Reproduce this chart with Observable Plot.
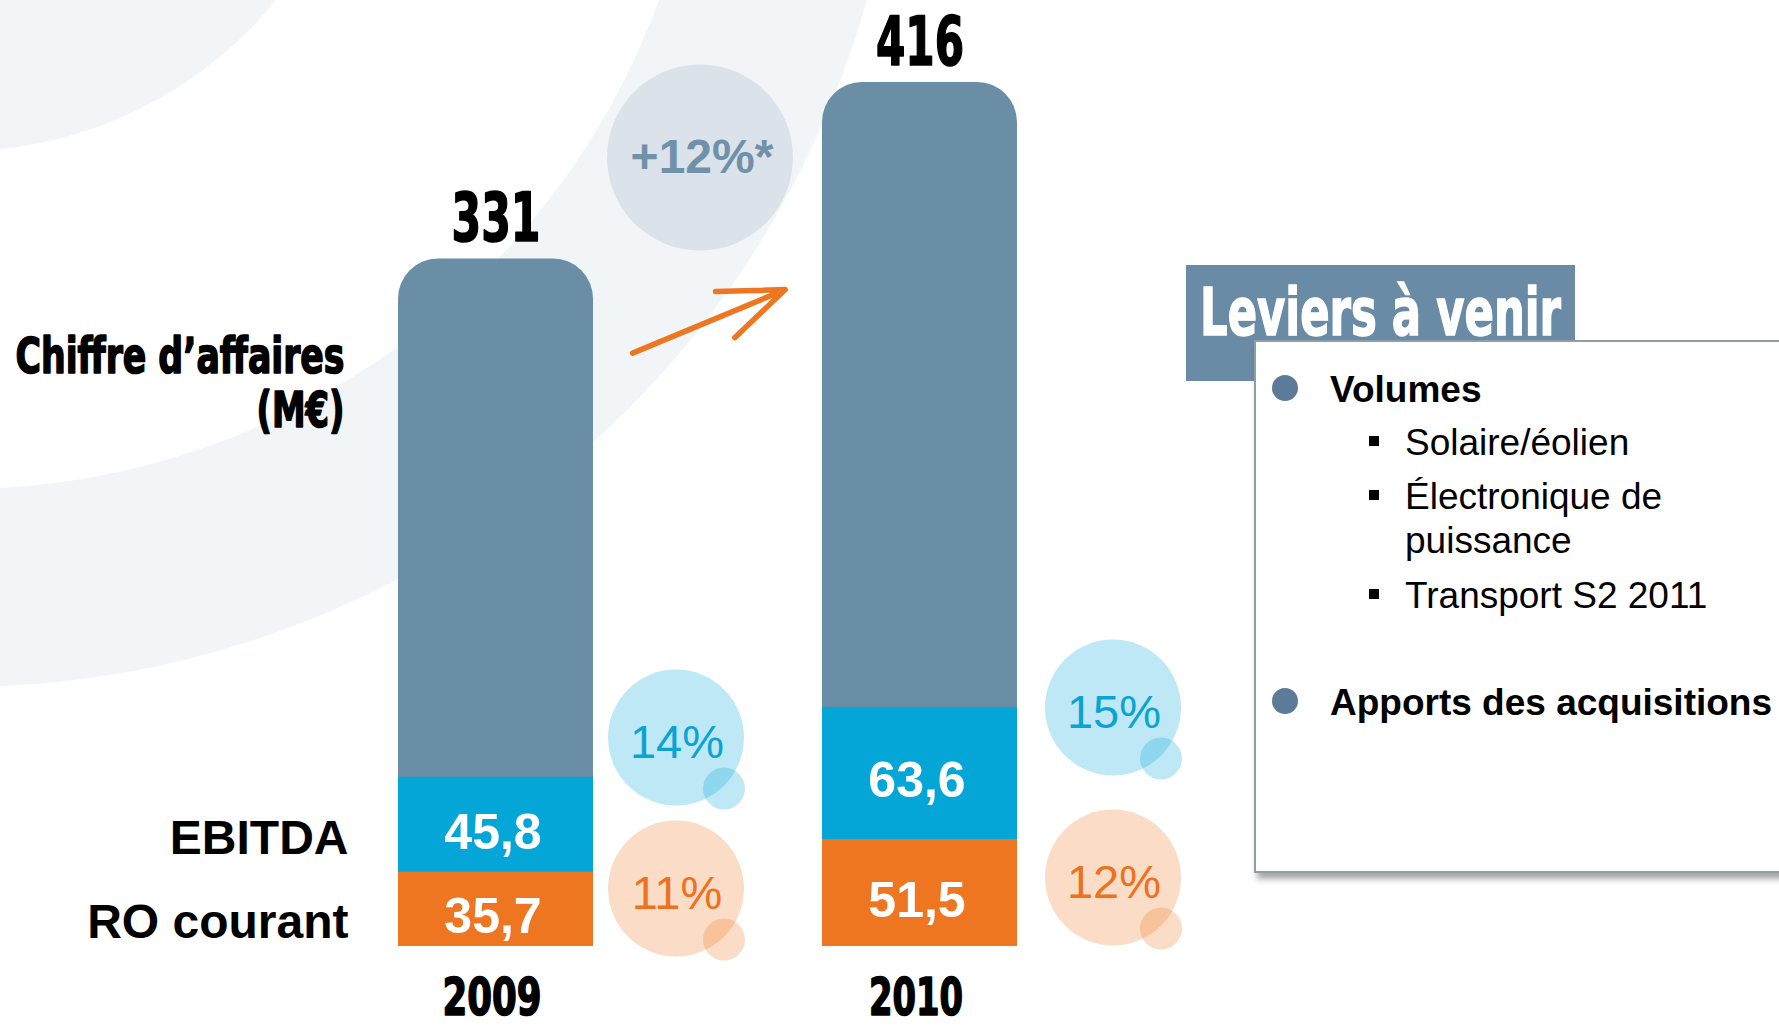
<!DOCTYPE html>
<html>
<head>
<meta charset="utf-8">
<script src="https://cdn.jsdelivr.net/npm/d3@7"></script>
<script src="https://cdn.jsdelivr.net/npm/@observablehq/plot@0.6"></script>
<style>
  html, body { margin: 0; padding: 0; background: #ffffff; }
  #wrap { position: relative; width: 1779px; height: 1027px; overflow: hidden; }
  #bg, #chart, #box { position: absolute; left: 0; top: 0; }
</style>
</head>
<body>
<div id="wrap">
  <svg id="bg" width="1779" height="1027">
    <circle cx="-40" cy="-255" r="406" fill="#f2f5f8"></circle>
    <circle cx="-40" cy="-255" r="843" fill="none" stroke="#f2f5f8" stroke-width="198"></circle>
  </svg>
  <div id="chart"></div>
  <svg id="box" width="1779" height="1027"></svg>
</div>
<script>
// ---------------- data ----------------
const years = ["2009", "2010"];
const chiffreAffaires = [331, 416];      // M€
const ebitda = [45.8, 63.6];             // M€
const roCourant = [35.7, 51.5];          // M€
const ebitdaMargin = [14, 15];           // %
const roMargin = [11, 12];               // %
const growthLabel = ["+12%*"];
const rowLabels = ["Chiffre d’affaires\n(M€)", "EBITDA", "RO courant"];
const leviersTitle = "Leviers à venir";
const leviersItems = [
  { text: "Volumes", sub: [["Solaire/éolien"], ["Électronique de", "puissance"], ["Transport S2 2011"]] },
  { text: "Apports des acquisitions", sub: [] }
];

// ---------------- styles ----------------
const GRAY = "#6b8ea7", BLUE = "#04a6d8", ORANGE = "#ee7621";
const NARROW = "'Liberation Sans Narrow','DejaVu Sans Condensed','DejaVu Sans',sans-serif";
const ARIAL = "'Liberation Sans',Arial,sans-serif";

// target widths for the poster-style condensed headings (layout only)
const condensedWidth = {
  "331": 89, "416": 88, "2009": 99, "2010": 94,
  "Chiffre d’affaires": 329, "(M€)": 88, "Leviers à venir": 361
};
function condense(nodes) {
  nodes.forEach(t => {
    const w = condensedWidth[t.textContent];
    if (w) {
      t.setAttribute("textLength", w);
      t.setAttribute("lengthAdjust", "spacingAndGlyphs");
    }
  });
}

const rows = years.map((year, i) => ({
  year, ca: chiffreAffaires[i], ebitda: ebitda[i], ro: roCourant[i],
  ebitdaMargin: ebitdaMargin[i], roMargin: roMargin[i]
}));
const fr = v => String(v).replace(".", ",");
const roSeg = rows.map(r => ({ year: r.year, y1: 0, y2: r.ro, label: fr(r.ro) }));
const ebSeg = rows.map(r => ({ year: r.year, y1: r.ro, y2: r.ro + r.ebitda, label: fr(r.ebitda) }));
const caLines = rowLabels[0].split("\n");

// bubble placement (layout only)
const bubbleLayout = {
  "2009": { dx: 180, ebitda: -209, ro: -58 },
  "2010": { dx: 193, ebitda: -239, ro: -69 }
};
function bubbles(kind, color, textColor, valueKey) {
  return rows.flatMap(r => {
    const L = bubbleLayout[r.year];
    const d = [r];
    return [
      Plot.dot(d, { x: "year", y: () => 0, r: 68, dx: L.dx, dy: L[kind], fill: color, fillOpacity: 0.26, stroke: "none" }),
      Plot.dot(d, { x: "year", y: () => 0, r: 21, dx: L.dx + 48, dy: L[kind] + 51, fill: color, fillOpacity: 0.26, stroke: "none" }),
      Plot.text(d, { x: "year", y: () => 0, dx: L.dx + 1, dy: L[kind] + 5, text: x => x[valueKey] + "%",
        fill: textColor, fontSize: 47, fontFamily: ARIAL })
    ];
  });
}

const heavy = { fill: "black", stroke: "black", strokeWidth: 1.6, fontWeight: "bold", fontFamily: NARROW, className: "condensed" };

const chart = Plot.plot({
  width: 1779, height: 1027, margin: 0,
  style: { background: "transparent", overflow: "visible" },
  x: { type: "band", domain: years, range: [397, 1017], paddingInner: 0.541, paddingOuter: 0, axis: null },
  y: { domain: [0, 416], range: [946, 82], axis: null },
  marks: [
    // stacked columns
    Plot.barY(rows, { x: "year", y1: () => 0, y2: "ca", fill: GRAY, rx: 40 }),
    Plot.barY(ebSeg, { x: "year", y1: "y1", y2: "y2", fill: BLUE }),
    Plot.barY(roSeg, { x: "year", y1: "y1", y2: "y2", fill: ORANGE }),
    // values inside segments
    Plot.text([...ebSeg, ...roSeg], { x: "year", y: d => (d.y1 + d.y2) / 2, text: "label", dy: 8, dx: -3,
      fill: "white", fontSize: 50, fontWeight: "bold", fontFamily: ARIAL }),
    // totals on top
    Plot.text(rows, { x: "year", y: "ca", text: d => String(d.ca), lineAnchor: "bottom", dy: -18, fontSize: 68, ...heavy }),
    // year labels
    Plot.text(rows, { x: "year", y: () => 0, text: "year", lineAnchor: "bottom", dy: 68, dx: -4, fontSize: 52, ...heavy }),
    // row labels
    Plot.text([caLines[0]], { frameAnchor: "top-left", dx: 344, dy: 372, text: d => d, textAnchor: "end",
      lineAnchor: "bottom", fontSize: 50, ...heavy }),
    Plot.text([caLines[1]], { frameAnchor: "top-left", dx: 344, dy: 426, text: d => d, textAnchor: "end",
      lineAnchor: "bottom", fontSize: 50, ...heavy }),
    Plot.text([rows[0]], { frameAnchor: "left", y: d => d.ro + d.ebitda / 2, text: () => rowLabels[1], textAnchor: "end",
      dx: 348, dy: 29, lineAnchor: "bottom", fill: "black", fontSize: 48, fontWeight: "bold", fontFamily: ARIAL }),
    Plot.text([rows[0]], { frameAnchor: "left", y: d => d.ro / 2, text: () => rowLabels[2], textAnchor: "end",
      dx: 348, dy: 29, lineAnchor: "bottom", fill: "black", fontSize: 48, fontWeight: "bold", fontFamily: ARIAL }),
    // margin bubbles
    ...bubbles("ebitda", BLUE, "#0aa3d3", "ebitdaMargin"),
    ...bubbles("ro", ORANGE, "#ec7120", "roMargin"),
    // growth bubble + arrow
    Plot.dot(growthLabel, { x: () => years[0], y: () => chiffreAffaires[1], dx: 204, dy: 75, r: 93,
      fill: "#dbe2e9", stroke: "none" }),
    Plot.text(growthLabel, { x: () => years[0], y: () => chiffreAffaires[1], dx: 206, dy: 75, text: d => d,
      fill: "#6f91aa", fontSize: 48, fontWeight: "bold", fontFamily: ARIAL }),
    Plot.arrow([rows], { x1: () => years[0], y1: d => d[0].ca, x2: () => years[1], y2: d => d[1].ca,
      dy: 151, insetStart: 148, insetEnd: 146, stroke: ORANGE, strokeWidth: 5.5, headLength: 19, headAngle: 42 })
  ]
});
document.getElementById("chart").appendChild(chart);
condense(chart.querySelectorAll("g.condensed text"));

// ---------------- "Leviers à venir" panel ----------------
const box = d3.select("#box");
const defs = box.append("defs");
const f = defs.append("filter").attr("id", "sh").attr("x", "-10%").attr("y", "-10%").attr("width", "130%").attr("height", "130%");
f.append("feDropShadow").attr("dx", 3).attr("dy", 6).attr("stdDeviation", 3).attr("flood-color", "#000").attr("flood-opacity", 0.35);

box.append("rect").attr("x", 1186).attr("y", 265).attr("width", 389).attr("height", 116).attr("fill", "#6a8ba5");
const title = box.append("text").attr("x", 1200).attr("y", 335).attr("fill", "white")
  .attr("stroke", "white").attr("stroke-width", 1.4)
  .attr("font-family", NARROW).attr("font-weight", "bold").attr("font-size", 66).text(leviersTitle);
condense([title.node()]);
box.append("rect").attr("x", 1255).attr("y", 341).attr("width", 600).attr("height", 531)
  .attr("fill", "white").attr("stroke", "#8f9daa").attr("stroke-width", 2).attr("filter", "url(#sh)");

const lineY = [[402, [[455], [509, 553], [608]]], [715, []]];
leviersItems.forEach((item, i) => {
  const [by, subs] = lineY[i];
  box.append("circle").attr("cx", 1285).attr("cy", by - 14).attr("r", 13).attr("fill", "#5b7b98");
  box.append("text").attr("x", 1330).attr("y", by).attr("font-family", ARIAL).attr("font-weight", "bold")
    .attr("font-size", 37).attr("fill", "black").text(item.text);
  item.sub.forEach((lines, j) => {
    const ys = subs[j];
    box.append("rect").attr("x", 1369).attr("y", ys[0] - 19).attr("width", 10).attr("height", 10).attr("fill", "black");
    lines.forEach((ln, k) => {
      box.append("text").attr("x", 1405).attr("y", ys[k]).attr("font-family", ARIAL)
        .attr("font-size", 37).attr("fill", "black").text(ln);
    });
  });
});
</script>
</body>
</html>
